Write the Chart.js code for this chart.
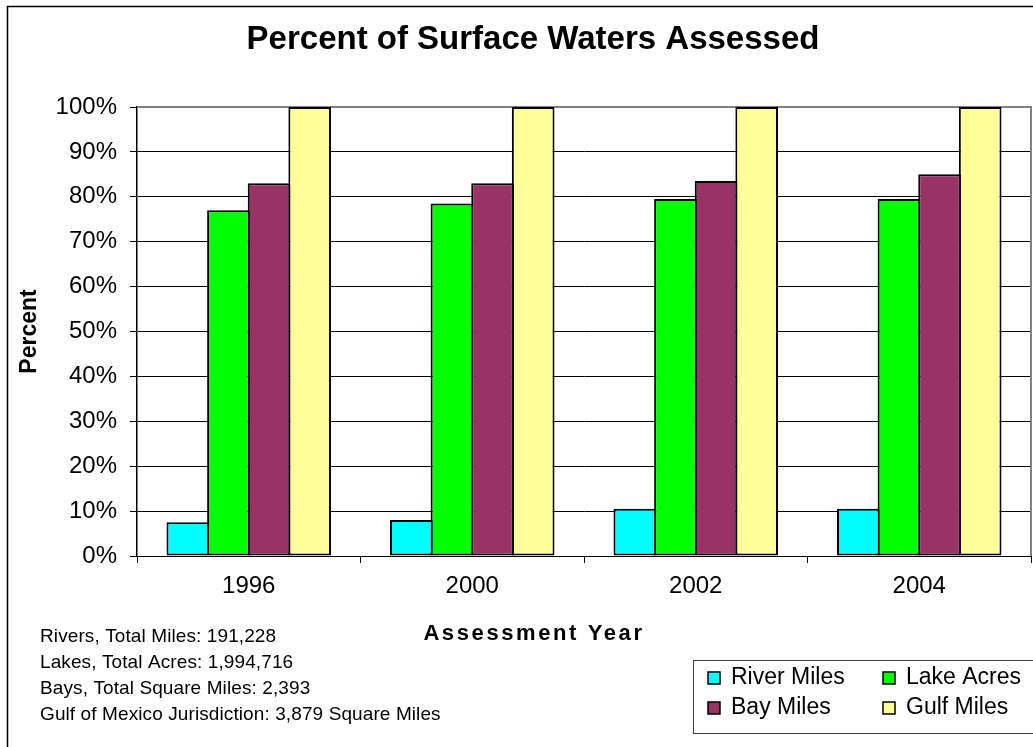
<!DOCTYPE html>
<html>
<head>
<meta charset="utf-8">
<script src="https://cdn.jsdelivr.net/npm/chart.js@4/dist/chart.umd.min.js"></script>
<style>
  html, body { margin: 0; padding: 0; background: #ffffff; }
  #wrap { width: 1033px; height: 747px; }
</style>
</head>
<body>
<div id="wrap"><canvas id="c" width="1033" height="747"></canvas></div>
<script>
// Assessment years and the share of each water type assessed (percent)
const categories = ['1996', '2000', '2002', '2004'];
const riverMiles = [7.5, 8, 10.5, 10.5];
const lakeAcres  = [77, 78.5, 79.5, 79.5];
const bayMiles   = [83, 83, 83.5, 85];
const gulfMiles  = [100, 100, 100, 100];

const seriesNames = ['River Miles', 'Lake Acres', 'Bay Miles', 'Gulf Miles'];
const seriesColors = ['#00FFFF', '#00FF00', '#993366', '#FFFF99'];

const yTickValues = [0, 10, 20, 30, 40, 50, 60, 70, 80, 90, 100];

const chartTitle = 'Percent of Surface Waters Assessed';
const xTitle = 'Assessment Year';
const yTitle = 'Percent';
const noteLines = [
  'Rivers, Total Miles: 191,228',
  'Lakes, Total Acres: 1,994,716',
  'Bays, Total Square Miles: 2,393',
  'Gulf of Mexico Jurisdiction: 3,879 Square Miles'
];

const FONT = "'Liberation Sans', Arial, Helvetica, sans-serif";

function makeDataset(i, values) {
  return {
    label: seriesNames[i],
    data: values,
    backgroundColor: seriesColors[i],
    borderColor: '#000000',
    borderWidth: 2,
    borderSkipped: false,
    categoryPercentage: 0.727,
    barPercentage: 1.05
  };
}

// Title, frame, notes and the boxed legend drawn around the plot
const decorations = {
  id: 'decorations',
  beforeDatasetsDraw(chart) {
    const { ctx, chartArea: a } = chart;
    ctx.save();
    ctx.strokeStyle = '#808080';
    ctx.lineWidth = 2;
    ctx.beginPath();
    ctx.moveTo(a.left, a.top);
    ctx.lineTo(a.right, a.top);
    ctx.lineTo(a.right, a.bottom);
    ctx.stroke();
    ctx.restore();
  },
  afterDraw(chart) {
    const { ctx } = chart;
    ctx.save();

    // outer frame
    ctx.strokeStyle = '#000000';
    ctx.lineWidth = 1.5;
    ctx.beginPath();
    ctx.moveTo(7.5, 747);
    ctx.lineTo(7.5, 6.5);
    ctx.lineTo(1033, 6.5);
    ctx.stroke();

    // chart title
    ctx.fillStyle = '#000000';
    ctx.textAlign = 'center';
    ctx.textBaseline = 'middle';
    ctx.font = 'bold 33px ' + FONT;
    ctx.fillText(chartTitle, 533, 40);

    // x axis title
    ctx.font = 'bold 22px ' + FONT;
    ctx.letterSpacing = '2.6px';
    ctx.fillText(xTitle, 534, 634);
    ctx.letterSpacing = '0px';

    // notes
    ctx.textAlign = 'left';
    ctx.font = '19px ' + FONT;
    ctx.letterSpacing = '0.1px';
    noteLines.forEach((t, i) => ctx.fillText(t, 40, 637 + i * 26));
    ctx.letterSpacing = '0px';

    // legend
    ctx.strokeStyle = '#404040';
    ctx.lineWidth = 1;
    ctx.strokeRect(693.5, 660.5, 400, 73);
    ctx.font = '23px ' + FONT;
    const cols = [708, 883];
    const rows = [678, 708];
    chart.data.datasets.forEach((ds, i) => {
      const x = cols[i % 2];
      const y = rows[Math.floor(i / 2)];
      ctx.fillStyle = ds.backgroundColor;
      ctx.fillRect(x, y - 6, 12, 12);
      ctx.strokeStyle = '#000000';
      ctx.lineWidth = 1.5;
      ctx.strokeRect(x, y - 6, 12, 12);
      ctx.fillStyle = '#000000';
      ctx.fillText(ds.label, x + 23, y);
    });

    ctx.restore();
  }
};

new Chart(document.getElementById('c'), {
  type: 'bar',
  data: {
    labels: categories,
    datasets: [
      makeDataset(0, riverMiles),
      makeDataset(1, lakeAcres),
      makeDataset(2, bayMiles),
      makeDataset(3, gulfMiles)
    ]
  },
  options: {
    responsive: false,
    devicePixelRatio: 1,
    animation: false,
    layout: { padding: { top: 107, left: 0, right: 2, bottom: 0 } },
    plugins: {
      legend: { display: false },
      title: { display: false },
      tooltip: { enabled: false }
    },
    scales: {
      x: {
        afterFit(scale) { scale.height = 191; },
        offset: true,
        grid: {
          offset: true,
          drawOnChartArea: false,
          drawTicks: true,
          tickLength: 7,
          color: '#000000',
          lineWidth: 1
        },
        border: { display: true, color: '#000000', width: 1 },
        ticks: {
          color: '#000000',
          padding: 9,
          font: { family: FONT, size: 24 }
        }
      },
      y: {
        afterFit(scale) { scale.width = 137; },
        min: 0,
        max: 100,
        afterBuildTicks(scale) {
          scale.ticks = yTickValues.map(v => ({ value: v }));
        },
        grid: {
          color: ctx => (ctx.tick && ctx.tick.value === 100 ? '#808080' : '#000000'),
          lineWidth: 1,
          drawTicks: true,
          tickLength: 7,
          tickColor: '#000000'
        },
        border: { display: true, color: '#000000', width: 1.5 },
        ticks: {
          color: '#000000',
          padding: 13,
          font: { family: FONT, size: 24 },
          callback: v => v + '%'
        },
        title: {
          display: true,
          text: yTitle,
          color: '#000000',
          font: { family: FONT, size: 23, weight: 'bold' },
          padding: { top: 16, bottom: 0 }
        }
      }
    }
  },
  plugins: [decorations]
});
</script>
</body>
</html>
